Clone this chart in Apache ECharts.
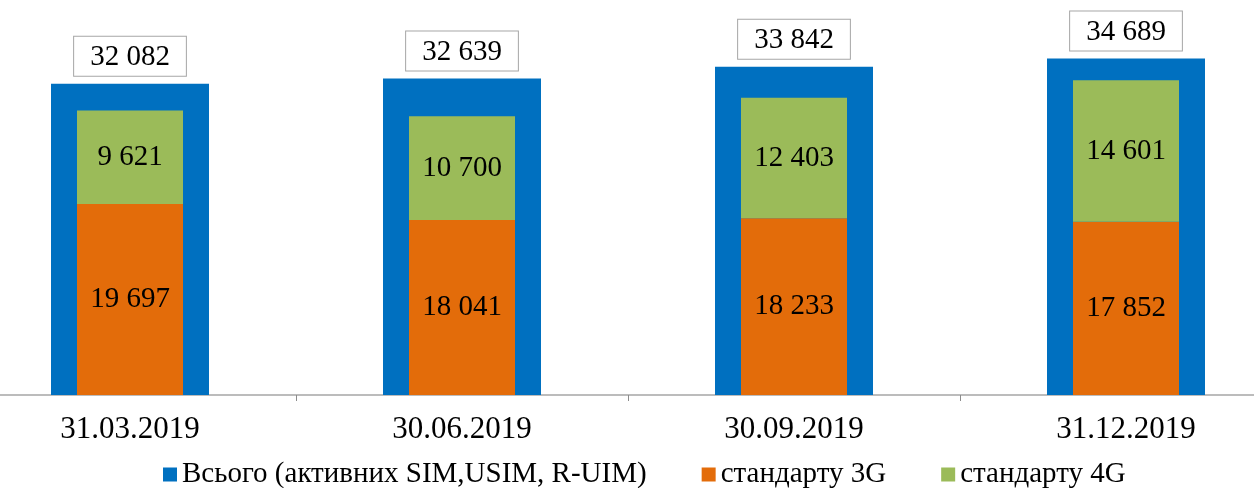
<!DOCTYPE html>
<html>
<head>
<meta charset="utf-8">
<script src="https://cdn.jsdelivr.net/npm/echarts@6/dist/echarts.min.js"></script>
<style>
html,body{margin:0;padding:0;background:#fff;}
#chart{width:1254px;height:488px;}
</style>
</head>
<body>
<div id="chart"></div>
<script>
const categories = ['31.03.2019', '30.06.2019', '30.09.2019', '31.12.2019'];
const totalValues = [32082, 32639, 33842, 34689];
const values3G = [19697, 18041, 18233, 17852];
const values4G = [9621, 10700, 12403, 14601];
const seriesNames = ['Всього (активних SIM,USIM, R-UIM)', 'стандарту 3G', 'стандарту 4G'];

const fmt = v => String(v).replace(/\B(?=(\d{3})+(?!\d))/g, ' ');
const FONT = '"Liberation Serif", "Times New Roman", serif';

const chart = echarts.init(document.getElementById('chart'));
chart.setOption({
  animation: false,
  backgroundColor: '#ffffff',
  textStyle: { fontFamily: FONT },
  grid: { left: -36, right: -38, top: 7, bottom: 93, outerBoundsMode: 'none', containLabel: false },
  legend: {
    data: seriesNames,
    left: 158,
    top: 455,
    icon: 'rect',
    itemWidth: 14,
    itemHeight: 14,
    itemGap: 55,
    textStyle: { fontFamily: FONT, fontSize: 29, color: '#000' }
  },
  xAxis: [
    {
      type: 'category',
      data: categories,
      axisLine: { lineStyle: { color: '#A6A6A6', width: 1.5 } },
      axisTick: { show: true, length: 6, lineStyle: { color: '#8C8C8C' } },
      axisLabel: { fontFamily: FONT, fontSize: 31, color: '#000', margin: 19 }
    },
    {
      type: 'category',
      data: categories,
      show: false
    }
  ],
  yAxis: { type: 'value', min: 0, max: 40000, show: false },
  series: [
    {
      name: seriesNames[0],
      type: 'bar',
      xAxisIndex: 0,
      barWidth: 158,
      data: totalValues,
      itemStyle: { color: '#0070C0' },
      label: {
        show: true,
        position: 'top',
        distance: 8,
        formatter: p => fmt(p.value),
        fontFamily: FONT,
        fontSize: 29,
        color: '#000',
        backgroundColor: '#fff',
        borderColor: '#A6A6A6',
        borderWidth: 1,
        padding: [6, 16, 4, 16]
      }
    },
    {
      name: seriesNames[1],
      type: 'bar',
      xAxisIndex: 1,
      stack: 'g',
      barWidth: 106,
      data: values3G,
      itemStyle: { color: '#E36C0A' },
      label: {
        show: true, position: 'inside',
        formatter: p => fmt(p.value),
        fontFamily: FONT, fontSize: 29, color: '#000'
      }
    },
    {
      name: seriesNames[2],
      type: 'bar',
      xAxisIndex: 1,
      stack: 'g',
      barWidth: 106,
      data: values4G,
      itemStyle: { color: '#9BBB59' },
      label: {
        show: true, position: 'inside',
        formatter: p => fmt(p.value),
        fontFamily: FONT, fontSize: 29, color: '#000'
      }
    }
  ]
});
</script>
</body>
</html>
